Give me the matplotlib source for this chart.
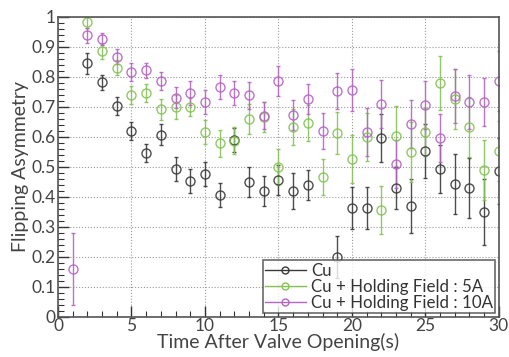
import numpy as np
import matplotlib.pyplot as plt
from matplotlib.ticker import MultipleLocator

plt.rcParams['font.family'] = ['Lato', 'DejaVu Sans']

# time after valve opening (s)
t = np.arange(1, 31)

nan = np.nan
cu = [nan, 0.845, 0.781, 0.702, 0.620, 0.547, 0.606, 0.493, 0.453, 0.476,
      0.406, 0.589, 0.448, 0.419, 0.457, 0.419, 0.440, nan, 0.198, 0.361,
      0.361, 0.595, 0.430, 0.370, 0.552, 0.492, 0.441, 0.428, 0.350, 0.486]
cu_err = [nan, 0.035, 0.025, 0.03, 0.03, 0.03, 0.035, 0.04, 0.04, 0.04,
          0.04, 0.04, 0.05, 0.05, 0.05, 0.06, 0.05, nan, 0.07, 0.07,
          0.07, 0.08, 0.07, 0.09, 0.09, 0.08, 0.10, 0.10, 0.11, 0.11]

hf5 = [nan, 0.981, 0.885, 0.830, 0.739, 0.745, 0.691, 0.700, 0.700, 0.616,
       0.578, 0.587, 0.658, 0.665, 0.500, 0.633, 0.645, 0.467, 0.613, 0.525,
       0.600, 0.356, 0.603, 0.548, 0.617, 0.779, 0.725, 0.633, 0.489, 0.553]
hf5_err = [nan, 0.02, 0.025, 0.025, 0.03, 0.03, 0.035, 0.04, 0.03, 0.04,
           0.045, 0.045, 0.05, 0.05, 0.06, 0.06, 0.06, 0.06, 0.07, 0.08,
           0.08, 0.08, 0.10, 0.10, 0.08, 0.09, 0.10, 0.10, 0.10, 0.10]

hf10 = [0.160, 0.939, 0.926, 0.867, 0.817, 0.822, 0.786, 0.730, 0.745, 0.715,
        0.767, 0.745, 0.739, 0.670, 0.787, 0.672, 0.726, 0.620, 0.752, 0.755,
        0.615, 0.708, 0.508, 0.641, 0.706, 0.597, 0.735, 0.716, 0.716, 0.787]
hf10_err = [0.12, 0.025, 0.02, 0.025, 0.03, 0.025, 0.03, 0.035, 0.04, 0.04,
            0.04, 0.04, 0.045, 0.045, 0.05, 0.05, 0.05, 0.06, 0.06, 0.07,
            0.08, 0.08, 0.08, 0.08, 0.08, 0.08, 0.09, 0.09, 0.08, 0.10]

labels = ['Cu', 'Cu + Holding Field : 5A', 'Cu + Holding Field : 10A']
colors = ['#3a3a3a', '#86c256', '#b565c4']

fig = plt.figure(figsize=(5.09, 3.57), dpi=100)
ax = fig.add_axes([0.114, 0.113, 0.866, 0.840])

for y, e, c, lab in zip([cu, hf5, hf10], [cu_err, hf5_err, hf10_err], colors, labels):
    ax.errorbar(t, y, yerr=e, fmt='o', ms=6.5, mfc='none', mec=c, mew=1.0,
                ecolor=c, elinewidth=1.0, capsize=1.5, capthick=1.0,
                color=c, label=lab, alpha=0.9)

ax.set_xlim(0, 30)
ax.set_ylim(0, 1)
ax.xaxis.set_major_locator(MultipleLocator(5))
ax.xaxis.set_minor_locator(MultipleLocator(1))
ax.yaxis.set_minor_locator(MultipleLocator(0.02))
ax.set_yticks(np.arange(0, 1.01, 0.1))
ax.set_yticklabels(['0'] + ['%.1f' % v for v in np.arange(0.1, 0.95, 0.1)] + ['1'])

ax.tick_params(which='both', direction='in', top=False, right=False,
               labelsize=12.5, colors='#333333', labelcolor='#444444')
ax.tick_params(which='major', length=8, width=1.0)
ax.tick_params(which='minor', length=4, width=0.8)
ax.tick_params(axis='x', pad=1)
ax.tick_params(axis='y', pad=1.5)

for s in ax.spines.values():
    s.set_color('#555555')
    s.set_linewidth(1.2)

ax.grid(True, which='major', linestyle=':', color='#999999', linewidth=0.8)

ax.set_xlabel('Time After Valve Opening(s)', fontsize=14, color='#444444', labelpad=-1)
ax.set_ylabel('Flipping Asymmetry', fontsize=14, color='#444444', labelpad=2)

# legend handles drawn as line + open marker
handles = [plt.Line2D([], [], color=c, marker='o', mfc='none', mec=c, ms=5, lw=1.0)
           for c in colors]
leg = ax.legend(handles, labels, loc='lower right', fontsize=12.2, frameon=True,
                fancybox=False, edgecolor='#444444', handlelength=2.4,
                handletextpad=0.3, borderpad=0.15, labelspacing=0.0,
                borderaxespad=0.2)
leg.get_frame().set_linewidth(1.2)
for txt in leg.get_texts():
    txt.set_color('#333333')

fig.savefig('out.png', dpi=100)
